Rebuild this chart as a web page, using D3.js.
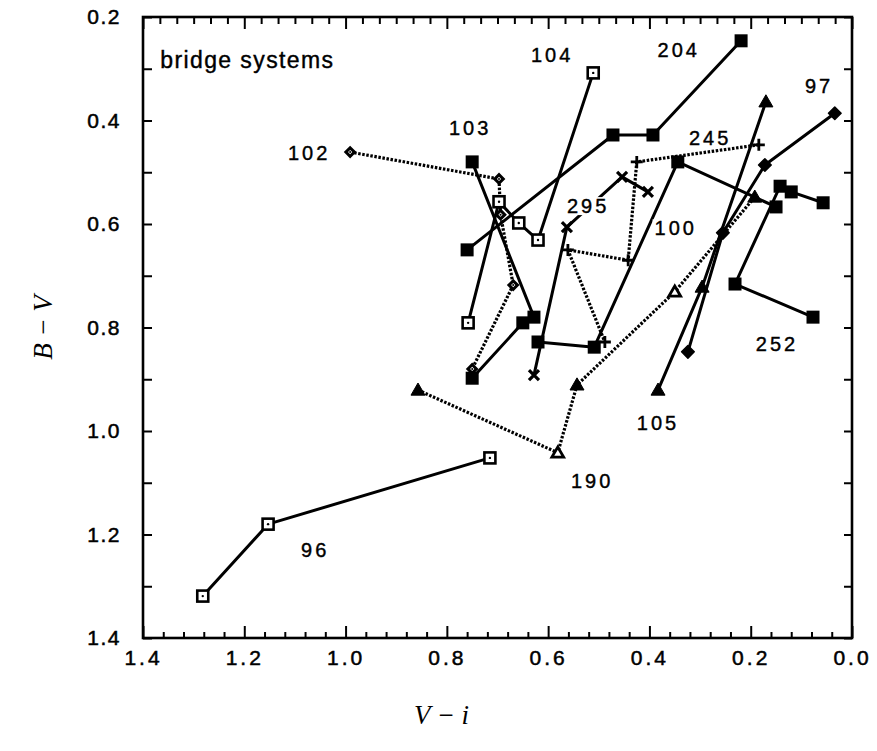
<!DOCTYPE html>
<html><head><meta charset="utf-8">
<script src="https://cdn.jsdelivr.net/npm/d3@7"></script>
<style>body{margin:0;background:#fff}svg{display:block}</style>
</head><body>
<script>
// ---- data (V-i, B-V) ----
const xMajor = [1.4,1.2,1.0,0.8,0.6,0.4,0.2,0.0];
const yMajor = [0.2,0.4,0.6,0.8,1.0,1.2,1.4];
const s96  = [[1.282,1.319],[1.153,1.180],[0.715,1.052]];
const s102 = [[0.991,0.461],[0.697,0.513],[0.694,0.582],[0.669,0.718],[0.750,0.880]];
const s103 = [[0.750,0.480],[0.628,0.780],[0.650,0.791],[0.750,0.898]];
const s104 = [[0.511,0.308],[0.620,0.631],[0.658,0.598],[0.697,0.557],[0.758,0.791]];
const s204 = [[0.760,0.650],[0.472,0.428],[0.393,0.428],[0.219,0.246]];
const s100 = [[0.620,0.828],[0.509,0.838],[0.344,0.480],[0.150,0.567]];
const s252 = [[0.077,0.780],[0.231,0.716],[0.142,0.527],[0.120,0.538],[0.057,0.559]];
const s97  = [[0.034,0.386],[0.172,0.486],[0.255,0.617],[0.324,0.847]];
const s105 = [[0.170,0.364],[0.296,0.722],[0.383,0.921]];
const s190 = [[0.857,0.921],[0.581,1.042],[0.543,0.911],[0.350,0.731],[0.192,0.548]];
const s190Open = [false,true,false,true,false];
const s295 = [[0.628,0.892],[0.563,0.606],[0.454,0.509],[0.403,0.538]];
const s245 = [[0.184,0.447],[0.425,0.480],[0.442,0.670],[0.561,0.650],[0.488,0.828]];
const labelNames = ["104","204","97","103","102","245","295","100","252","105","190","96"];
const labelPos = [[0.592,0.273],[0.342,0.264],[0.065,0.333],[0.754,0.414],[1.072,0.463],[0.280,0.434],
                  [0.521,0.565],[0.348,0.608],[0.148,0.832],[0.383,0.985],[0.513,1.097],[1.060,1.230]];

// ---- layout ----
const W = 877, H = 751;
const x = d3.scaleLinear().domain([1.4, 0]).range([143, 852]);
const y = d3.scaleLinear().domain([0.2, 1.4]).range([17, 638]);
const svg = d3.select("body").append("svg").attr("width", W).attr("height", H);
const font = "'Liberation Sans', Arial, Helvetica, sans-serif";

// axes
function styleAxis(g){ g.select(".domain").remove(); g.selectAll(".tick line").attr("stroke","#000").attr("stroke-width",2);
  g.selectAll("text").attr("fill","#000").attr("font-family",font).attr("stroke","#000").attr("stroke-width",0.5); }
const xMinorB = d3.range(0, 36).map(i => +(i*0.04).toFixed(3)).filter(v => Math.abs(v/0.2 - Math.round(v/0.2)) > 1e-6);
const xMinorT = d3.range(0, 43).map(i => +(i/30).toFixed(4)).filter(v => v <= 1.4 && Math.abs(v/0.2 - Math.round(v/0.2)) > 1e-6);
const yMinor = [0.3,0.5,0.7,0.9,1.1,1.3];
const yAll = d3.range(0, 13).map(i => +(0.2 + i*0.1).toFixed(2));

svg.append("g").attr("transform","translate(0,638)")
  .call(d3.axisBottom(x).tickValues(xMajor).tickSize(-12).tickPadding(12).tickFormat(d3.format(".1f")))
  .call(styleAxis).call(g => g.selectAll("text").attr("font-size",21).attr("letter-spacing","3px"));
svg.append("g").attr("transform","translate(0,638)")
  .call(d3.axisBottom(x).tickValues(xMinorB).tickSize(-6).tickFormat("")).call(styleAxis);
svg.append("g").attr("transform","translate(0,17)")
  .call(d3.axisTop(x).tickValues(xMajor).tickSize(-12).tickFormat("")).call(styleAxis);
svg.append("g").attr("transform","translate(0,17)")
  .call(d3.axisTop(x).tickValues(xMinorT).tickSize(-7).tickFormat("")).call(styleAxis);
svg.append("g").attr("transform","translate(143,0)")
  .call(d3.axisLeft(y).tickValues(yMajor).tickSize(-9).tickPadding(22).tickFormat(d3.format(".1f")))
  .call(styleAxis).call(g => g.selectAll("text").attr("font-size",21).attr("letter-spacing","1.5px"));
svg.append("g").attr("transform","translate(143,0)")
  .call(d3.axisLeft(y).tickValues(yMinor).tickSize(-9).tickFormat("")).call(styleAxis);
svg.append("g").attr("transform","translate(852,0)")
  .call(d3.axisRight(y).tickValues(yAll).tickSize(-8).tickFormat("")).call(styleAxis);

// frame
svg.append("rect").attr("x",x(1.4)).attr("y",y(0.2)).attr("width",x(0)-x(1.4)).attr("height",y(1.4)-y(0.2))
  .attr("fill","none").attr("stroke","#000").attr("stroke-width",2.6);

// axis titles
svg.append("text").attr("transform",`translate(52,${(y(0.2)+y(1.4))/2}) rotate(-90)`).attr("text-anchor","middle")
  .attr("font-family","'Liberation Serif', 'Times New Roman', serif").attr("font-style","italic").attr("font-size",27).text("B − V");
svg.append("text").attr("x",(x(1.4)+x(0))/2 - 56).attr("y",724).attr("text-anchor","middle")
  .attr("font-family","'Liberation Serif', 'Times New Roman', serif").attr("font-style","italic").attr("font-size",27).text("V − i");

// lines
const line = d3.line().x(d => x(d[0])).y(d => y(d[1]));
const lineG = svg.append("g");
function drawLine(data, dotted){
  lineG.append("path").attr("d", line(data)).attr("fill","none").attr("stroke","#000")
    .attr("stroke-width", dotted ? 3.2 : 3).attr("stroke-dasharray", dotted ? "2.5,1.6" : null)
    .attr("stroke-linejoin","round");
}
drawLine(s96,false); drawLine(s102,true); drawLine(s103,false); drawLine(s104,false);
drawLine(s204,false); drawLine(s100,false); drawLine(s252,false); drawLine(s97,false);
drawLine(s105,false); drawLine(s190,true); drawLine(s295,false); drawLine(s245,true);

// labels with white background
const labG = svg.append("g");
labelNames.forEach((t,i) => {
  const g = labG.append("g");
  const tx = g.append("text").attr("x", x(labelPos[i][0])).attr("y", y(labelPos[i][1])).attr("dy","0.36em")
    .attr("text-anchor","middle").attr("font-family",font).attr("font-size",20).attr("letter-spacing","3px")
    .attr("stroke","#000").attr("stroke-width",0.4).text(t);
  const b = tx.node().getBBox();
  g.insert("rect","text").attr("x",b.x-2).attr("y",b.y+2).attr("width",b.width+2).attr("height",b.height-4).attr("fill","#fff");
});
svg.append("text").attr("x", x(1.366)).attr("y", y(0.283)).attr("dy","0.36em").attr("font-family",font)
  .attr("font-size",23).attr("letter-spacing","1.4px").attr("stroke","#000").attr("stroke-width",0.4).text("bridge systems");

// markers
const mG = svg.append("g");
function markers(data, type, openFlags){
  data.forEach((d,i) => {
    const cx = x(d[0]), cy = y(d[1]);
    const g = mG.append("g").attr("transform",`translate(${cx},${cy})`);
    if (type === "fsq") g.append("rect").attr("x",-6.5).attr("y",-6.5).attr("width",13).attr("height",13).attr("fill","#000");
    else if (type === "osq") { g.append("rect").attr("x",-5.5).attr("y",-5.5).attr("width",11).attr("height",11).attr("fill","#fff").attr("stroke","#000").attr("stroke-width",2.6);
      g.append("circle").attr("r",1.2).attr("fill","#000"); }
    else if (type === "odia") { g.append("path").attr("d",d3.symbol(d3.symbolSquare, 36)()).attr("transform","rotate(45)")
        .attr("fill","#fff").attr("stroke","#000").attr("stroke-width",3);
      g.append("circle").attr("r",1).attr("fill","#000"); }
    else if (type === "fdia") g.append("path").attr("d",d3.symbol(d3.symbolSquare, 80)()).attr("transform","rotate(45)")
        .attr("fill","#000").attr("stroke","#000").attr("stroke-width",1.5).attr("stroke-linejoin","round");
    else if (type === "tri") { const open = openFlags && openFlags[i];
      g.append("path").attr("d",d3.symbol(d3.symbolTriangle, open ? 60 : 85)()).attr("transform","translate(0,1)")
        .attr("fill", open ? "#fff" : "#000").attr("stroke","#000").attr("stroke-width", open ? 2.8 : 1); }
    else if (type === "x") g.append("path").attr("d","M-5,-5L5,5M-5,5L5,-5").attr("stroke","#000").attr("stroke-width",3.2);
    else if (type === "plus") g.append("path").attr("d","M-6,0L6,0M0,-6L0,6").attr("stroke","#000").attr("stroke-width",2.8);
  });
}
markers(s96,"osq"); markers(s104,"osq"); markers(s102,"odia");
markers(s103,"fsq"); markers(s204,"fsq"); markers(s100,"fsq"); markers(s252,"fsq");
markers(s97,"fdia"); markers(s105,"tri"); markers(s190,"tri",s190Open);
markers(s295,"x"); markers(s245,"plus");
</script>
</body></html>
